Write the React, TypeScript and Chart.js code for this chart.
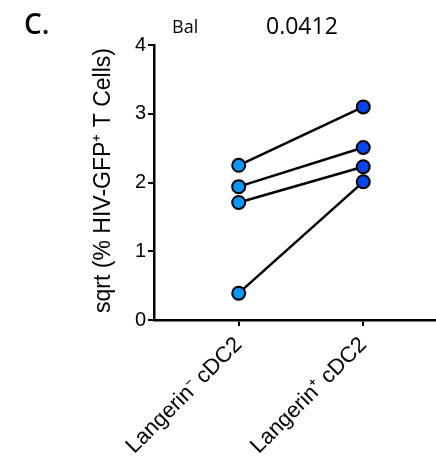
import React, { useEffect, useRef } from "react";
import { Chart, registerables } from "chart.js";

Chart.register(...registerables);

const categories = ["Langerin\u207B cDC2", "Langerin\u207A cDC2"];
const langerinNeg = [2.25, 1.94, 1.71, 0.39];
const langerinPos = [3.1, 2.51, 2.23, 2.01];
const yTicks = [0, 1, 2, 3, 4];
const panelLabel = "C.";
const virusLabel = "Bal";
const pValue = "0.0412";
const yTitle = "sqrt (% HIV-GFP\u207A T Cells)";

const lightBlue = "#0897fb";
const darkBlue = "#0846ec";

const noOverflowPlugin = {
  id: "noOverflow",
  beforeElementsUpdate(chart: any) {
    chart.data.datasets.forEach((_: any, i: number) => {
      const meta = chart.getDatasetMeta(i);
      if (meta && meta.controller) meta.controller.getMaxOverflow = () => 0;
    });
  },
};

const textPlugin = {
  id: "textPlugin",
  afterDraw(chart: any) {
    const ctx = chart.ctx;
    ctx.save();
    ctx.fillStyle = "#000";
    ctx.textBaseline = "alphabetic";
    ctx.textAlign = "left";
    ctx.font = '600 28px "Open Sans"';
    ctx.fillText(panelLabel, 24, 34);
    ctx.font = '18px "Open Sans"';
    ctx.fillText(virusLabel, 172, 33);
    ctx.font = '23px "Open Sans"';
    ctx.fillText(pValue, 266, 34);
    ctx.translate(104, 180.5);
    ctx.rotate(-Math.PI / 2);
    ctx.textAlign = "center";
    ctx.textBaseline = "middle";
    ctx.font = '23px "Liberation Sans"';
    ctx.fillText(yTitle, 0, 0);
    ctx.restore();
  },
};

export default function App() {
  const ref = useRef<HTMLCanvasElement>(null);
  useEffect(() => {
    document.body.style.margin = "0";
    document.body.style.overflow = "hidden";
    const datasets = langerinNeg.map((v, i) => ({
      data: [
        { x: 1, y: v },
        { x: 2, y: langerinPos[i] },
      ],
      borderColor: "#000",
      borderWidth: 2.5,
      pointBackgroundColor: [lightBlue, darkBlue],
      pointBorderColor: "#000",
      pointBorderWidth: 2,
      pointRadius: 6.5,
      clip: false as any,
    }));
    const chart = new Chart(ref.current!, {
      type: "line",
      data: { datasets },
      plugins: [noOverflowPlugin, textPlugin],
      options: {
        animation: false,
        responsive: false,
        layout: { padding: { top: 45, left: 0, right: 0, bottom: 0 } },
        plugins: { legend: { display: false }, tooltip: { enabled: false } },
        scales: {
          x: {
            type: "linear",
            min: 0.32,
            max: 2.584,
            afterBuildTicks: (s: any) => {
              s.ticks = categories.map((_, i) => ({ value: i + 1 }));
            },
            afterFit: (s: any) => {
              s.height = 146;
              s.paddingRight = 0;
              s.paddingLeft = 0;
            },
            border: { display: true, color: "#000", width: 2.5 },
            grid: {
              display: true,
              drawOnChartArea: false,
              drawTicks: true,
              tickLength: 6,
              color: "#000",
              lineWidth: 2,
            },
            ticks: {
              minRotation: 45,
              maxRotation: 45,
              padding: 6,
              color: "#000",
              font: { family: '"Liberation Sans"', size: 22 },
              callback: (v: any) => categories[Math.round(v) - 1] ?? "",
            },
          },
          y: {
            min: 0,
            max: 4,
            afterBuildTicks: (s: any) => {
              s.ticks = yTicks.map((v) => ({ value: v }));
            },
            afterFit: (s: any) => {
              s.width = 154;
            },
            border: { display: true, color: "#000", width: 2.5 },
            grid: {
              display: true,
              drawOnChartArea: false,
              drawTicks: true,
              tickLength: 6,
              color: "#000",
              lineWidth: 2,
            },
            ticks: {
              padding: 2,
              color: "#000",
              font: { family: '"Liberation Sans"', size: 20 },
            },
          },
        },
      },
    });
    return () => chart.destroy();
  }, []);
  return (
    <div style={{ width: 436, height: 466, overflow: "hidden" }}>
      <canvas ref={ref} width={436} height={466} style={{ display: "block" }} />
    </div>
  );
}
